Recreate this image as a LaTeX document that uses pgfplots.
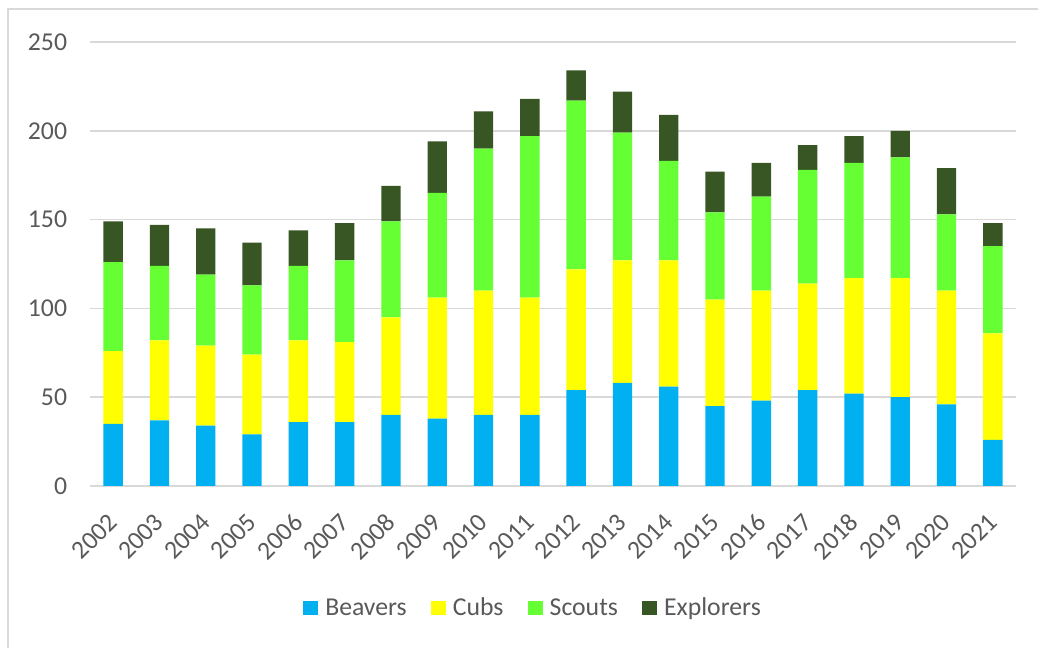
\documentclass[border=0pt]{standalone}
\usepackage{pgfplots}
\pgfplotsset{compat=1.18}
\usepackage{pgfplotstable}
\usepackage{fontspec}
\setmainfont{Carlito}
\definecolor{beav}{HTML}{00B0F0}
\definecolor{cubs}{HTML}{FFFF00}
\definecolor{scou}{HTML}{66FF33}
\definecolor{expl}{HTML}{375623}
\definecolor{gridc}{HTML}{D9D9D9}
\definecolor{txt}{HTML}{595959}
\pgfplotstableread{
x B C S E
0 35 41 50 23
1 37 45 42 23
2 34 45 40 26
3 29 45 39 24
4 36 46 42 20
5 36 45 46 21
6 40 55 54 20
7 38 68 59 29
8 40 70 80 21
9 40 66 91 21
10 54 68 95 17
11 58 69 72 23
12 56 71 56 26
13 45 60 49 23
14 48 62 53 19
15 54 60 64 14
16 52 65 65 15
17 50 67 68 15
18 46 64 43 26
19 26 60 49 13
}\data
\begin{document}
\begin{tikzpicture}
\path[use as bounding box] (0,0) rectangle (778.5pt,486pt);
\draw[gridc, line width=1.1pt] (6pt,0) -- (6pt,479.25pt) -- (778.5pt,479.25pt);
\begin{axis}[
  at={(67.5pt,121.5pt)}, anchor=south west,
  scale only axis, width=694.5pt, height=333pt,
  ybar stacked, bar width=14.5pt,
  xmin=-0.5, xmax=19.5, ymin=0, ymax=250,
  xtick={0,...,19},
  xticklabels={2002,2003,2004,2005,2006,2007,2008,2009,2010,2011,2012,2013,2014,2015,2016,2017,2018,2019,2020,2021},
  ytick={0,50,...,250},
  ymajorgrids, grid style={gridc, line width=1.1pt},
  axis x line*=bottom,
  axis y line*=left,
  x axis line style={gridc, line width=1.1pt, -},
  y axis line style={draw=none},
  major tick length=0pt,
  tick label style={font=\fontsize{19.3pt}{23pt}\selectfont, text=txt},
  /pgf/number format/assume math mode=true,
  xticklabel style={yshift=-24pt, rotate=45, anchor=east, inner sep=0pt},
  yticklabel style={xshift=-17pt, anchor=east, inner sep=0pt},
  legend columns=4,
  legend style={draw=none, fill=none, at={(0.4773,-0.2748)}, anchor=center,
    font=\fontsize{19.3pt}{23pt}\selectfont, text=txt,
    nodes={inner sep=0pt},
    /tikz/every odd column/.append style={column sep=5.3pt},
    /tikz/every even column/.append style={column sep=18pt}},
  legend image code/.code={\fill[#1] (0pt,-5.6pt) rectangle (11.3pt,5.6pt);},
]
\addplot[fill=beav, draw=none] table[x=x, y=B] {\data};
\addplot[fill=cubs, draw=none] table[x=x, y=C] {\data};
\addplot[fill=scou, draw=none] table[x=x, y=S] {\data};
\addplot[fill=expl, draw=none] table[x=x, y=E] {\data};
\legend{Beavers, Cubs, Scouts, Explorers}
\end{axis}
\end{tikzpicture}
\end{document}
